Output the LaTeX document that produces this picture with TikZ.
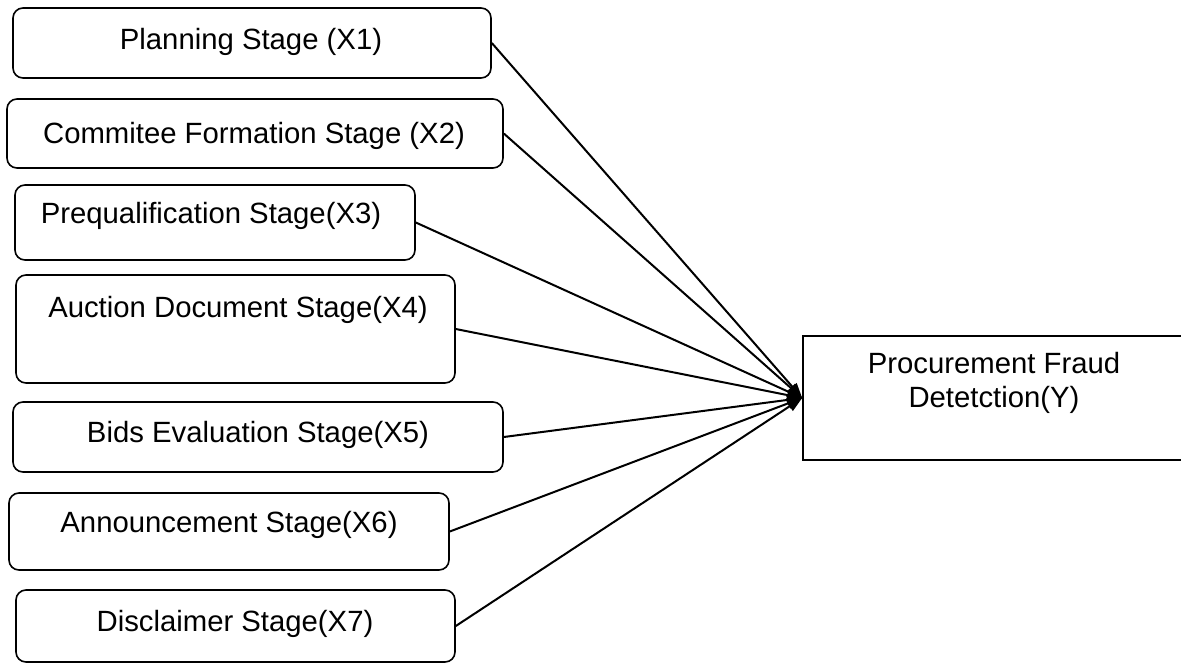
\documentclass[tikz,border=0pt]{standalone}
\usepackage{fontspec}
\setmainfont{Liberation Sans}
\usetikzlibrary{arrows.meta}
\begin{document}
\begin{tikzpicture}[x=1pt,y=-1pt,
  stagebox/.style={draw=black,line width=1.6pt,rounded corners=10pt,inner sep=0pt},
  ybox/.style={draw=black,line width=1.6pt,inner sep=0pt},
  lbl/.style={inner sep=0pt,font=\fontsize{29.3}{34}\selectfont,align=center},
  conn/.style={draw=black,line width=2pt,-{Triangle[length=15pt,width=11pt]}}]
\useasboundingbox (0,0) rectangle (1181,665);
\node[stagebox,minimum width=478pt,minimum height=70pt] (b1) at (252,43) {};
\node[stagebox,minimum width=496pt,minimum height=69pt] (b2) at (255,133.5) {};
\node[stagebox,minimum width=400pt,minimum height=75pt] (b3) at (215,222.5) {};
\node[stagebox,minimum width=439pt,minimum height=108pt] (b4) at (235.5,329) {};
\node[stagebox,minimum width=490pt,minimum height=70pt] (b5) at (258,437) {};
\node[stagebox,minimum width=440pt,minimum height=77pt] (b6) at (229,531.5) {};
\node[stagebox,minimum width=439pt,minimum height=72pt] (b7) at (235.5,626) {};
\node[ybox,minimum width=392pt,minimum height=124pt] (Y) at (999,398) {};
\node[lbl] (t1) at (251,42) {Planning Stage (X1)};
\node[lbl] (t2) at (254,136) {Commitee Formation Stage (X2)};
\node[lbl] (t3) at (211,216) {Prequalification Stage(X3)};
\node[lbl] (t4) at (238,310) {Auction Document Stage(X4)};
\node[lbl] (t5) at (258,435) {Bids Evaluation Stage(X5)};
\node[lbl] (t6) at (229,525) {Announcement Stage(X6)};
\node[lbl] (t7) at (235,623.5) {Disclaimer Stage(X7)};
\node[lbl] (ty) at (994,383) {Procurement Fraud\\Detetction(Y)};
\foreach \b in {b1,b2,b3,b4,b5,b6,b7}
  \draw[conn] (\b.east) -- (Y.west);
\end{tikzpicture}
\end{document}
